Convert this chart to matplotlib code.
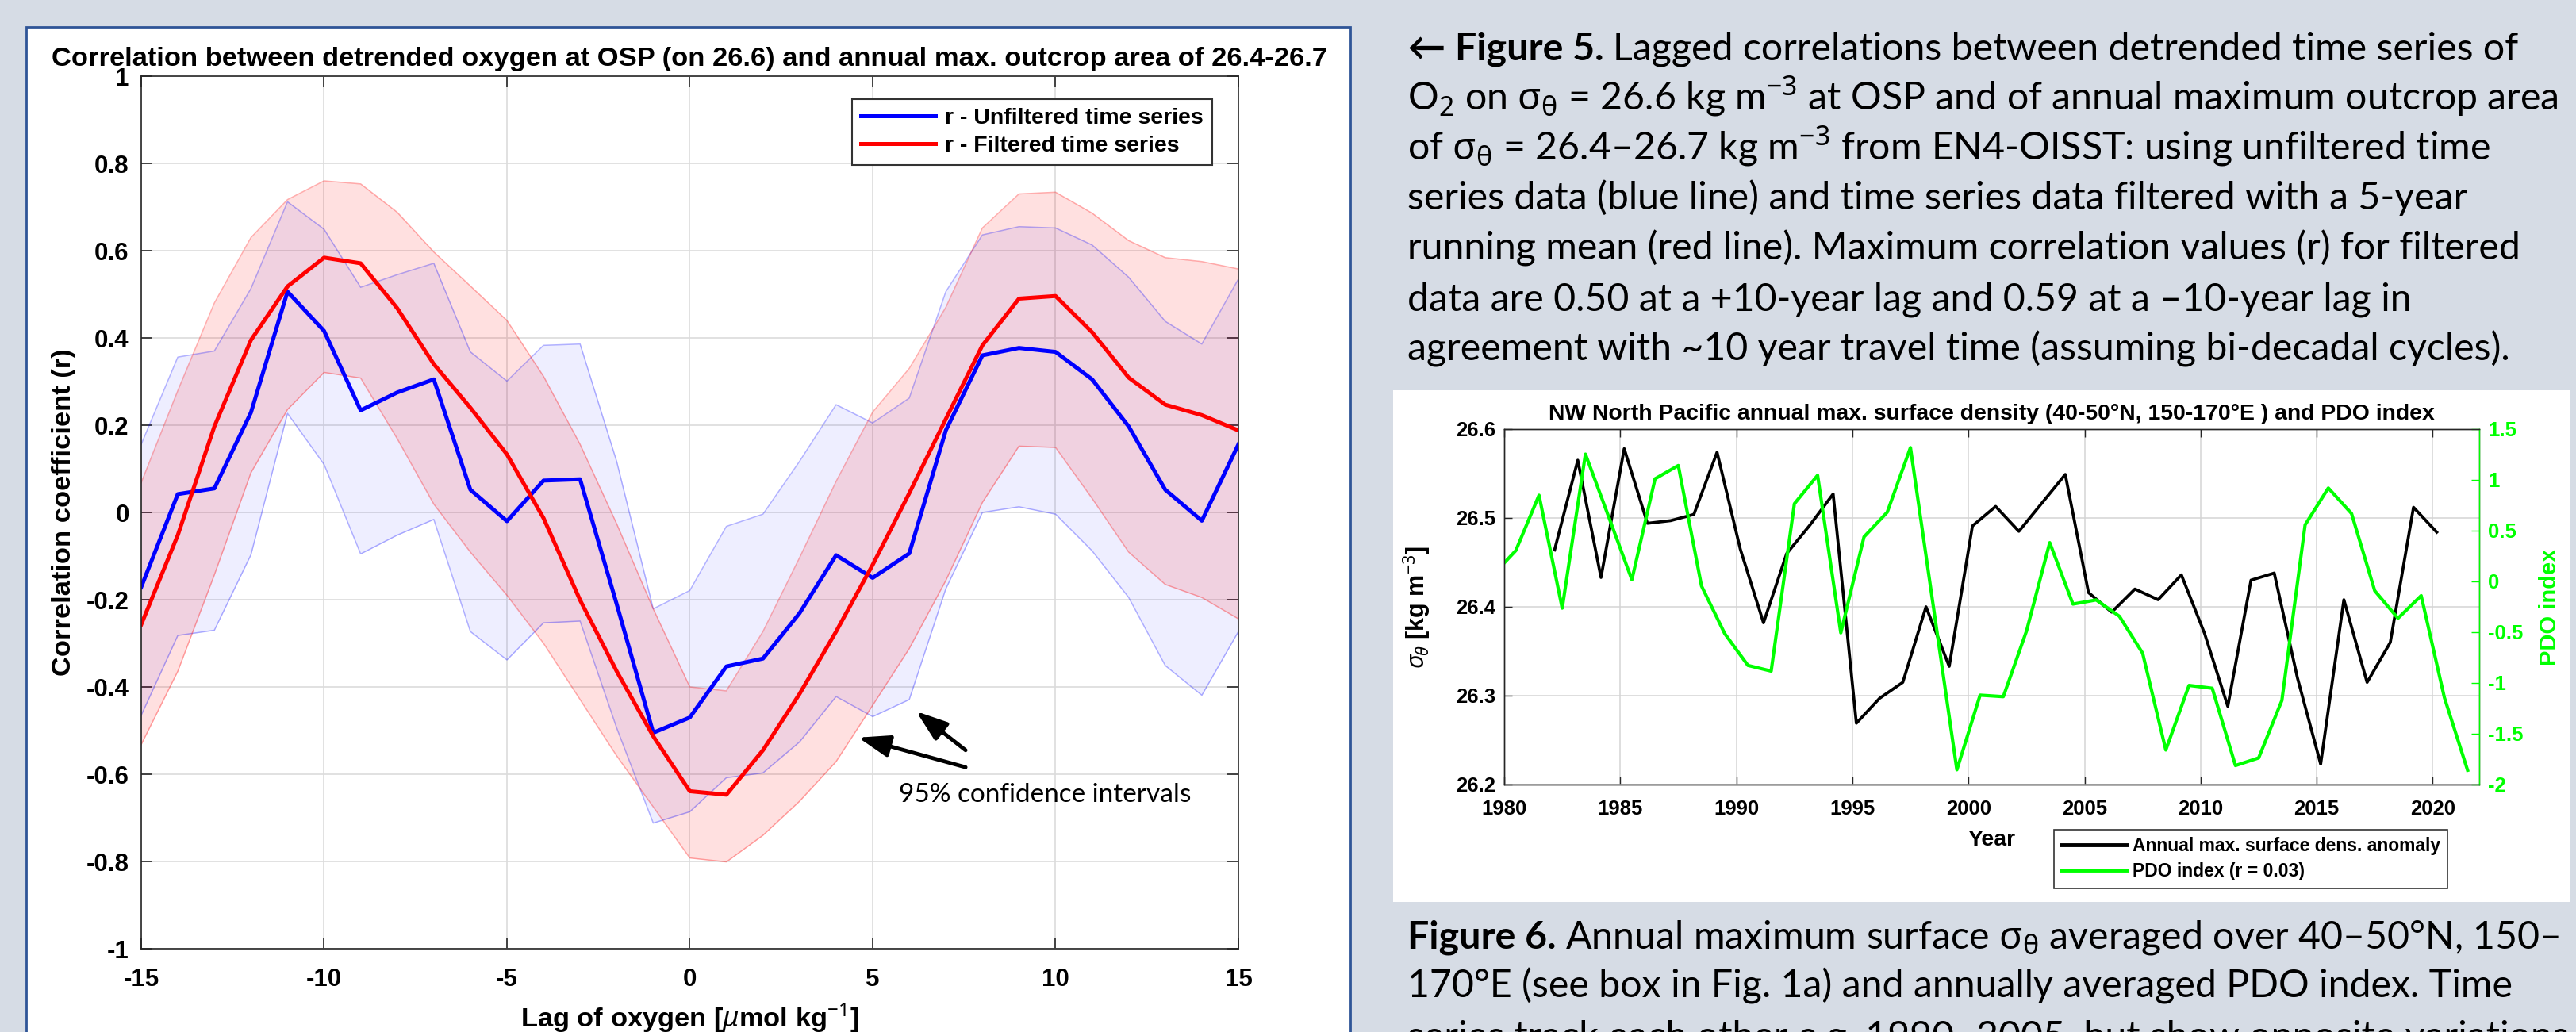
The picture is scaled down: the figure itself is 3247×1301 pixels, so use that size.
import matplotlib
matplotlib.use("Agg")
import matplotlib.pyplot as plt
from matplotlib.patches import Rectangle
import numpy as np

W, H = 3248, 1301
DPI = 100

plt.rcParams['axes.unicode_minus'] = False
plt.rcParams['mathtext.fontset'] = 'custom'
plt.rcParams['mathtext.rm'] = 'Noto Sans'
plt.rcParams['mathtext.it'] = 'Noto Sans:italic'
plt.rcParams['mathtext.bf'] = 'Noto Sans:bold'
plt.rcParams['mathtext.sf'] = 'Noto Sans'

MATLAB_FONT = ['Liberation Sans', 'DejaVu Sans']
CAPTION_FONT = ['Lato', 'Noto Sans', 'DejaVu Sans']
BG = '#D6DCE5'
BORDER = '#2F5597'
AXC = '#262626'
GREEN = '#00FF00'

# --- Figure 5: lagged correlation (lag in years)
lags = np.arange(-15, 16)
r_unfilt = [-0.171, 0.042, 0.055, 0.229, 0.506, 0.416, 0.234, 0.275, 0.305, 0.052, -0.020,
            0.073, 0.076, -0.210, -0.505, -0.470, -0.353, -0.335, -0.231, -0.098, -0.150,
            -0.094, 0.188, 0.360, 0.377, 0.368, 0.305, 0.197, 0.052, -0.019, 0.156]
unf_hi = [0.156, 0.356, 0.370, 0.513, 0.712, 0.649, 0.516, 0.545, 0.571, 0.368, 0.301,
          0.383, 0.386, 0.117, -0.221, -0.179, -0.032, -0.004, 0.117, 0.247, 0.205,
          0.262, 0.506, 0.636, 0.655, 0.652, 0.613, 0.539, 0.438, 0.386, 0.535]
unf_lo = [-0.465, -0.282, -0.270, -0.097, 0.227, 0.110, -0.095, -0.052, -0.016, -0.273, -0.338,
          -0.253, -0.249, -0.494, -0.712, -0.686, -0.608, -0.597, -0.526, -0.422, -0.468,
          -0.429, -0.175, 0.000, 0.013, -0.004, -0.088, -0.195, -0.351, -0.419, -0.273]
r_filt = [-0.257, -0.052, 0.197, 0.395, 0.518, 0.584, 0.571, 0.468, 0.340, 0.240, 0.133,
          -0.013, -0.201, -0.364, -0.513, -0.639, -0.647, -0.545, -0.416, -0.273, -0.120,
          0.044, 0.214, 0.383, 0.490, 0.496, 0.413, 0.309, 0.247, 0.223, 0.188]
filt_hi = [0.068, 0.279, 0.480, 0.630, 0.717, 0.760, 0.753, 0.688, 0.597, 0.519, 0.440,
           0.312, 0.156, -0.026, -0.221, -0.400, -0.409, -0.273, -0.104, 0.071, 0.230,
           0.330, 0.470, 0.652, 0.730, 0.734, 0.686, 0.623, 0.584, 0.575, 0.558]
filt_lo = [-0.532, -0.364, -0.143, 0.091, 0.236, 0.321, 0.308, 0.169, 0.019, -0.091, -0.190,
           -0.300, -0.429, -0.558, -0.675, -0.792, -0.801, -0.740, -0.662, -0.571, -0.442,
           -0.312, -0.156, 0.023, 0.152, 0.149, 0.032, -0.091, -0.165, -0.195, -0.244]

# --- Figure 6: annual max surface density (early-year) and annual PDO (mid-year)
dens_years = np.arange(1982, 2021) + 0.17
dens = [26.464, 26.565, 26.433, 26.578, 26.494, 26.497, 26.504, 26.574, 26.465, 26.382,
        26.460, 26.492, 26.527, 26.269, 26.297, 26.315, 26.400, 26.333,
        26.491, 26.513, 26.485, 26.517, 26.549, 26.416, 26.394, 26.420, 26.408, 26.436,
        26.370, 26.288, 26.430, 26.438, 26.320, 26.223, 26.408, 26.315, 26.360, 26.512, 26.484]
pdo_years = np.arange(1979, 2022) + 0.5
pdo = [0.06, 0.304, 0.849, -0.263, 1.254, 0.637, 0.017, 1.011, 1.142, -0.045, -0.514,
       -0.827, -0.883, 0.765, 1.045, -0.506, 0.439, 0.682, 1.318, -0.268, -1.855,
       -1.120, -1.135, -0.488, 0.382, -0.223, -0.182, -0.343, -0.706, -1.660, -1.024,
       -1.052, -1.813, -1.738, -1.172, 0.557, 0.920, 0.669, -0.092, -0.363, -0.140,
       -1.144, -1.860]

fig5_lines = [
    ("\u2190 Figure 5.", "Lagged correlations between detrended time series of"),
    (None, r"O$_\mathrm{2}$ on $\mathrm{\sigma}_\mathrm{\theta}$ = 26.6 kg m$^\mathrm{-3}$ at OSP and of annual maximum outcrop area"),
    (None, r"of $\mathrm{\sigma}_\mathrm{\theta}$ = 26.4–26.7 kg m$^\mathrm{-3}$ from EN4-OISST: using unfiltered time"),
    (None, "series data (blue line) and time series data filtered with a 5-year"),
    (None, "running mean (red line). Maximum correlation values (r) for filtered"),
    (None, "data are 0.50 at a +10-year lag and 0.59 at a –10-year lag in"),
    (None, "agreement with ~10 year travel time (assuming bi-decadal cycles)."),
]
fig6_lines = [
    ("Figure 6.", r"Annual maximum surface $\mathrm{\sigma}_\mathrm{\theta}$ averaged over 40–50°N, 150–"),
    (None, "170°E (see box in Fig. 1a) and annually averaged PDO index. Time"),
    (None, "series track each other e.g. 1990–2005, but show opposite variations"),
]


def fx(px):
    return px / W


def fy(py):
    return 1 - py / H


def fmt(v):
    return '{:g}'.format(v + 0.0) if abs(v) > 1e-9 else '0'


fig = plt.figure(figsize=(W / DPI, H / DPI), dpi=DPI, facecolor=BG)
renderer = fig.canvas.get_renderer()

# white panels (behind everything)
fig.patches.append(Rectangle((fx(33), fy(1330)), fx(1702) - fx(33), fy(34) - fy(1330),
                             transform=fig.transFigure, facecolor='white',
                             edgecolor=BORDER, linewidth=2, zorder=-10))
fig.patches.append(Rectangle((fx(1756), fy(1137)), fx(3240) - fx(1756), fy(492) - fy(1137),
                             transform=fig.transFigure, facecolor='white',
                             edgecolor='none', zorder=-10))

# ---------------- left chart
ax = fig.add_axes([fx(178), fy(1196), fx(1561) - fx(178), fy(96) - fy(1196)])
ax.fill_between(lags, unf_lo, unf_hi, color='blue', alpha=0.065, lw=0)
ax.plot(lags, unf_lo, color='blue', alpha=0.3, lw=1.1)
ax.plot(lags, unf_hi, color='blue', alpha=0.3, lw=1.1)
ax.fill_between(lags, filt_lo, filt_hi, color='red', alpha=0.12, lw=0)
ax.plot(lags, filt_lo, color='red', alpha=0.32, lw=1.1)
ax.plot(lags, filt_hi, color='red', alpha=0.32, lw=1.1)
ax.plot(lags, r_unfilt, color='blue', lw=3.6, label='r - Unfiltered time series')
ax.plot(lags, r_filt, color='red', lw=3.6, label='r - Filtered time series')

ax.set_xlim(-15, 15)
ax.set_ylim(-1, 1)
xt = np.arange(-15, 16, 5)
yt = np.round(np.arange(-1, 1.01, 0.2), 1)
ax.set_xticks(xt)
ax.set_xticklabels([fmt(v) for v in xt])
ax.set_yticks(yt)
ax.set_yticklabels([fmt(v) for v in yt])
ax.grid(True, color='#dcdcdc', lw=1.2)
ax.set_axisbelow(True)
ax.tick_params(direction='in', top=True, right=True, length=10, width=1.2, colors=AXC,
               labelsize=22.5, labelcolor='black')
ax.tick_params(axis='x', pad=17)
ax.tick_params(axis='y', pad=11)
for lab in ax.get_xticklabels() + ax.get_yticklabels():
    lab.set_family(MATLAB_FONT)
    lab.set_fontweight('bold')
for s in ax.spines.values():
    s.set_color(AXC)
    s.set_linewidth(1.2)

ax.set_title('Correlation between detrended oxygen at OSP (on 26.6) and annual max. outcrop area of 26.4-26.7',
             fontsize=24.8, fontweight='bold', family=MATLAB_FONT, pad=9.4)
ax.set_xlabel(r'Lag of oxygen [$\mu$mol kg$^{\mathbf{-1}}$]', fontsize=24.8, fontweight='bold',
              family=MATLAB_FONT)
ax.xaxis.set_label_coords(0.5, -0.06)
ax.set_ylabel('Correlation coefficient (r)', fontsize=24.8, fontweight='bold', family=MATLAB_FONT)
ax.yaxis.set_label_coords(-0.059, 0.5)

leg = ax.legend(loc='upper right', bbox_to_anchor=(0.976, 0.974), borderaxespad=0,
                prop=dict(family=MATLAB_FONT, weight='bold', size=20.5),
                handlelength=3.3, handletextpad=0.4, labelspacing=0.3, borderpad=0.4,
                fancybox=False, edgecolor='#333333', framealpha=1)
leg.get_frame().set_linewidth(1.5)

arrow = dict(arrowstyle='-|>,head_length=0.8,head_width=0.28', lw=3.5, color='black',
             shrinkA=0, shrinkB=0, mutation_scale=30)
ax.annotate('', xy=(4.61, -0.516), xytext=(7.54, -0.584), arrowprops=arrow)
ax.annotate('', xy=(6.19, -0.456), xytext=(7.54, -0.545), arrowprops=arrow)
ax.text(9.71, -0.647, '95% confidence intervals', ha='center', va='center',
        fontsize=24, family=CAPTION_FONT)

# ---------------- inset chart
ax_in = fig.add_axes([fx(1896), fy(989), fx(3125) - fx(1896), fy(541) - fy(989)])
l1, = ax_in.plot(dens_years, dens, color='black', lw=2.7)
ax_in.set_xlim(1980, 2022)
ax_in.set_ylim(26.2, 26.6)
ax_in.set_xticks(np.arange(1980, 2021, 5))
yt_in = np.round(np.arange(26.2, 26.61, 0.1), 1)
ax_in.set_yticks(yt_in)
ax_in.set_yticklabels(['{:.1f}'.format(v) for v in yt_in])
ax_in.grid(True, color='#d4d4d4', lw=1.1)
ax_in.set_axisbelow(True)
ax_in.tick_params(direction='in', top=True, length=7, width=1.0, colors=AXC,
                  labelsize=18.5, labelcolor='black')
ax_in.tick_params(axis='x', pad=14)
ax_in.tick_params(axis='y', pad=8)
for lab in ax_in.get_xticklabels() + ax_in.get_yticklabels():
    lab.set_family(MATLAB_FONT)
    lab.set_fontweight('bold')

ax_r = ax_in.twinx()
l2, = ax_r.plot(pdo_years, pdo, color=GREEN, lw=3.0)
ax_r.set_ylim(-2, 1.5)
yt_r = np.arange(-2, 1.51, 0.5)
ax_r.set_yticks(yt_r)
ax_r.set_yticklabels([fmt(v) for v in yt_r])
ax_r.tick_params(axis='y', direction='in', length=7, width=1.0, colors=GREEN,
                 labelsize=18.5, pad=8)
for lab in ax_r.get_yticklabels():
    lab.set_family(MATLAB_FONT)
    lab.set_fontweight('bold')
for s in ax_in.spines.values():
    s.set_color(AXC)
    s.set_linewidth(1.0)
for name, s in ax_r.spines.items():
    s.set_color(GREEN if name == 'right' else AXC)
    s.set_linewidth(1.0)

ax_in.set_title('NW North Pacific annual max. surface density (40-50°N, 150-170°E ) and PDO index',
                fontsize=20.4, fontweight='bold', family=MATLAB_FONT, pad=8.6)
ax_in.set_xlabel('Year', fontsize=20.4, fontweight='bold', family=MATLAB_FONT)
ax_in.xaxis.set_label_coords(0.5, -0.127)
ax_in.set_ylabel(r'$\sigma_\theta$ [kg m$^{\mathbf{-3}}$]', fontsize=22, fontweight='bold',
                 family=MATLAB_FONT)
ax_in.yaxis.set_label_coords(-0.073, 0.5)
ax_r.set_ylabel('PDO index', fontsize=21, fontweight='bold', family=MATLAB_FONT, color=GREEN)
ax_r.yaxis.set_label_coords(1.061, 0.5)

leg2 = ax_r.legend([l1, l2], ['Annual max. surface dens. anomaly', 'PDO index (r = 0.03)'],
                   loc='upper left', bbox_to_anchor=(fx(2589), fy(1046)),
                   bbox_transform=fig.transFigure, borderaxespad=0,
                   prop=dict(family=MATLAB_FONT, weight='bold', size=16.5),
                   handlelength=3.6, handletextpad=0.3, labelspacing=0.4, borderpad=0.4,
                   fancybox=False, edgecolor='#333333', framealpha=1)
leg2.get_frame().set_linewidth(1.2)
for ln in leg2.get_lines():
    ln.set_linewidth(3.5)


# ---------------- captions
def draw_caption(lines, x_px, bases, size):
    texts = []
    ends = []
    for (bold, rest), base in zip(lines, bases):
        x = fx(x_px)
        if bold:
            t = fig.text(x, fy(base), bold, fontsize=size, fontweight='bold',
                         family=CAPTION_FONT, ha='left', va='baseline')
            texts.append(t)
            x += (t.get_window_extent(renderer).width + 0.23 * size * DPI / 72) / W
        t = fig.text(x, fy(base), rest, fontsize=size, family=CAPTION_FONT,
                     ha='left', va='baseline')
        texts.append(t)
        ends.append(t.get_window_extent(renderer).x1)
    return texts, ends


CAP_X = 1774
CAP_RIGHT = 3226
FIG5_BASE = [75, 138, 201, 264, 327, 391, 454]
FIG6_BASE = [1195, 1258, 1321]

size0 = 30
tmp5, ends5 = draw_caption(fig5_lines, CAP_X, FIG5_BASE, size0)
tmp6, ends6 = draw_caption(fig6_lines[:2], CAP_X, FIG6_BASE, size0)
widest = max(ends5 + ends6) - CAP_X
size = size0 * (CAP_RIGHT - CAP_X) / widest
for t in tmp5 + tmp6:
    t.remove()
draw_caption(fig5_lines, CAP_X, FIG5_BASE, size)
draw_caption(fig6_lines, CAP_X, FIG6_BASE, size)

fig.savefig('out.png', dpi=DPI, facecolor=BG)
